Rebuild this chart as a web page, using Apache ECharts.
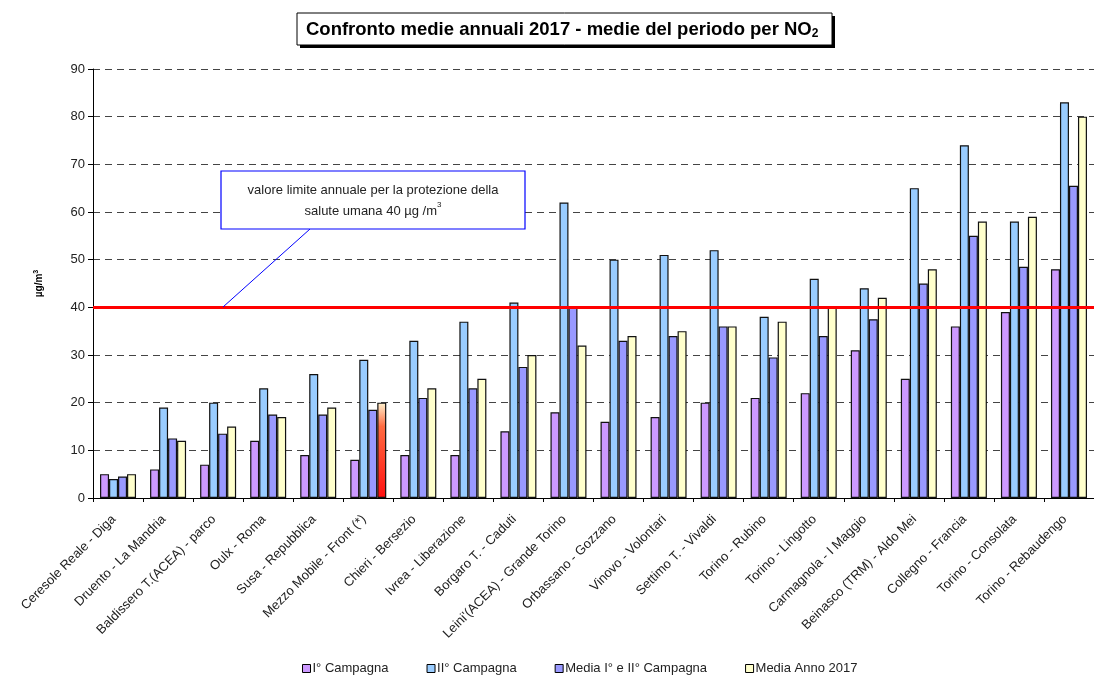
<!DOCTYPE html>
<html>
<head>
<meta charset="utf-8">
<script src="https://cdn.jsdelivr.net/npm/echarts@6/dist/echarts.min.js"></script>
<style>
  html, body { margin: 0; padding: 0; background: #fff; }
  #chart { width: 1094px; height: 681px; }
</style>
</head>
<body>
<div id="chart"></div>
<script>
var stations = ['Ceresole Reale - Diga', 'Druento - La Mandria', 'Baldissero T.(ACEA) - parco', 'Oulx - Roma',
  'Susa - Repubblica', 'Mezzo Mobile - Front (*)', 'Chieri - Bersezio', 'Ivrea - Liberazione',
  'Borgaro T. - Caduti', "Leini'(ACEA) - Grande Torino", 'Orbassano - Gozzano', 'Vinovo - Volontari',
  'Settimo T. - Vivaldi', 'Torino - Rubino', 'Torino - Lingotto', 'Carmagnola - I Maggio',
  'Beinasco (TRM) - Aldo Mei', 'Collegno - Francia', 'Torino - Consolata', 'Torino - Rebaudengo']
var campagna1 = [5, 6, 7, 12, 9, 8, 9, 9, 14, 18, 16, 17, 20, 21, 22, 31, 25, 36, 39, 48]
var campagna2 = [4, 19, 20, 23, 26, 29, 33, 37, 41, 62, 50, 51, 52, 38, 46, 44, 65, 74, 58, 83]
var mediaCampagne = [4.5, 12.5, 13.5, 17.5, 17.5, 18.5, 21, 23, 27.5, 40, 33, 34, 36, 29.5, 34, 37.5, 45, 55, 48.5, 65.5]
var mediaAnno = [5, 12, 15, 17, 19, 20, 23, 25, 30, 32, 34, 35, 36, 37, 40, 42, 48, 58, 59, 80]
var valoreLimite = 40
var seriesNames = ['I° Campagna', 'II° Campagna', 'Media I° e II° Campagna', 'Media Anno 2017']

var font = 'Liberation Sans, Arial, sans-serif'
var chart = echarts.init(document.getElementById('chart'))

// la barra del mezzo mobile e' evidenziata in rosso
var annoData = mediaAnno.map(function (v, i) {
  if (i !== 5) return v
  return {
    value: v,
    itemStyle: {
      color: new echarts.graphic.LinearGradient(0, 0, 0, 1, [
        { offset: 0, color: '#fff4d0' },
        { offset: 0.25, color: '#ff6a40' },
        { offset: 1, color: '#ff1010' }
      ])
    }
  }
})

function barSeries(name, data, color) {
  return {
    name: name,
    type: 'bar',
    data: data,
    barWidth: 9,
    barGap: '0%',
    itemStyle: { color: color, borderColor: '#111', borderWidth: 1.2 }
  }
}

chart.setOption({
  animation: false,
  textStyle: { fontFamily: font },
  title: {
    text: 'Confronto medie annuali 2017 - medie del periodo per NO{sub|2}',
    left: 306,
    top: 13,
    padding: [6, 0, 5, 0],
    textStyle: {
      fontFamily: font,
      fontSize: 18.5,
      fontWeight: 'bold',
      color: '#000',
      rich: {
        sub: { fontSize: 12, fontWeight: 'bold', verticalAlign: 'bottom', padding: [9, 0, 0, 0], fontFamily: font }
      }
    }
  },
  legend: {
    data: seriesNames,
    bottom: 1,
    left: 297,
    icon: 'rect',
    itemWidth: 8,
    itemHeight: 8,
    itemGap: 38,
    itemStyle: { borderColor: '#000', borderWidth: 1 },
    textStyle: { fontFamily: font, fontSize: 13, color: '#222', padding: [0, 0, 0, -3] }
  },
  grid: { left: 93, right: -4, top: 69, bottom: 183, containLabel: false },
  xAxis: {
    type: 'category',
    data: stations,
    axisLine: { lineStyle: { color: '#000', width: 1 } },
    axisTick: { show: true, length: 4, lineStyle: { color: '#000' } },
    axisLabel: { rotate: 45, fontSize: 13, color: '#222', margin: 15, padding: [0, 6, 0, 0], interval: 0, fontFamily: font }
  },
  yAxis: {
    type: 'value',
    min: 0,
    max: 90,
    interval: 10,
    name: 'µg/m{sup|3}',
    nameLocation: 'middle',
    nameRotate: 90,
    nameGap: 47,
    nameTextStyle: {
      fontSize: 10, fontWeight: 'bold', color: '#000', fontFamily: font,
      rich: { sup: { fontSize: 7, fontWeight: 'bold', verticalAlign: 'top', padding: [0, 0, 6, 0] } }
    },
    axisLine: { show: true, lineStyle: { color: '#000', width: 1 } },
    axisTick: { show: true, length: 5, lineStyle: { color: '#000' } },
    axisLabel: { fontSize: 13, color: '#222', margin: 8, fontFamily: font },
    splitLine: { lineStyle: { color: '#444', width: 1, type: [7, 5] } }
  },
  series: [
    barSeries(seriesNames[0], campagna1, '#cc99ff'),
    barSeries(seriesNames[1], campagna2, '#99ccff'),
    barSeries(seriesNames[2], mediaCampagne, '#9999ff'),
    barSeries(seriesNames[3], annoData, '#ffffcc'),
    {
      name: 'limite',
      type: 'line',
      data: [],
      z: 10,
      markLine: {
        silent: true,
        symbol: 'none',
        label: { show: false },
        lineStyle: { color: '#ff0000', width: 3, type: 'solid' },
        data: [{ yAxis: valoreLimite }]
      }
    }
  ],
  graphic: [
    // cornice del titolo con ombra
    {
      type: 'rect',
      z: -1,
      shape: { x: 300, y: 16, width: 535, height: 32 },
      style: { fill: '#000' }
    },
    {
      type: 'rect',
      z: -1,
      shape: { x: 297, y: 13, width: 535, height: 32 },
      style: { fill: '#fff', stroke: '#000', lineWidth: 1 }
    },
    {
      type: 'line',
      z: 20,
      shape: { x1: 310, y1: 229, x2: 223, y2: 307 },
      style: { stroke: '#0000ff', lineWidth: 1 }
    },
    {
      type: 'rect',
      z: 20,
      shape: { x: 221, y: 171, width: 304, height: 58 },
      style: { fill: '#fff', stroke: '#0000ff', lineWidth: 1.2 }
    },
    {
      type: 'text',
      z: 21,
      style: {
        x: 373,
        y: 180,
        text: 'valore limite annuale per la protezione della\nsalute umana 40 µg /m{sup|3}',
        align: 'center',
        verticalAlign: 'top',
        fill: '#222',
        font: '13px ' + font,
        lineHeight: 21,
        rich: {
          sup: { fontSize: 8, fontFamily: font, verticalAlign: 'top', padding: [0, 0, 8, 0], fill: '#222' }
        }
      }
    }
  ]
})
</script>
</body>
</html>
